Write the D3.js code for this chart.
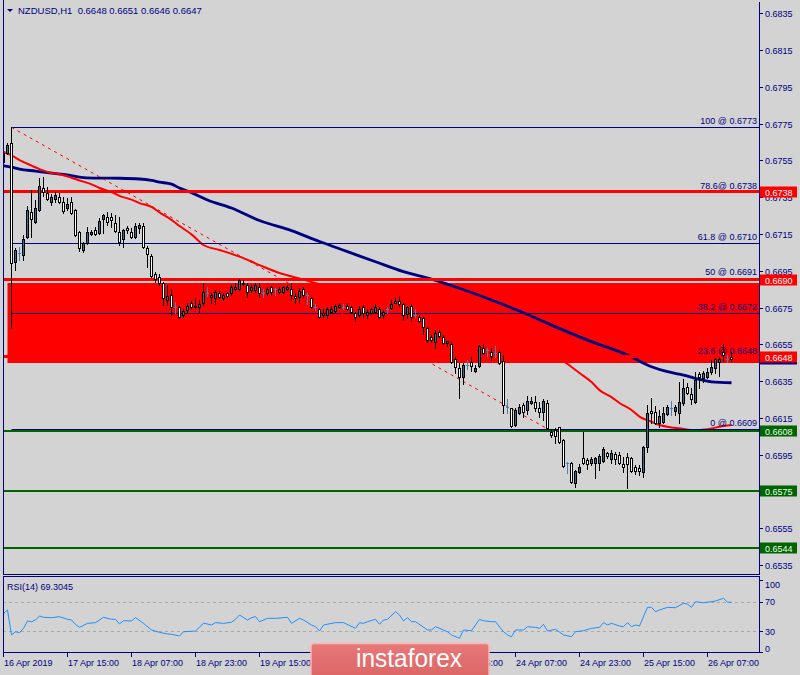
<!DOCTYPE html>
<html><head><meta charset="utf-8">
<script src="https://cdn.jsdelivr.net/npm/d3@7"></script>
<style>html,body{margin:0;padding:0;background:#d3d3d3;}svg{display:block;}text{font-family:"Liberation Sans",Arial,sans-serif;}</style>
</head><body>
<svg id="c" width="800" height="675"></svg>
<script>
// ---------------- DATA ----------------
const titleText = "NZDUSD,H1  0.6648 0.6651 0.6646 0.6647";
const rsiTitle = "RSI(14) 69.3045";

const open = [0.67541,0.67590,0.67645,0.66998,0.67047,0.67036,0.67134,0.67269,0.67215,0.67280,0.67400,0.67373,0.67324,0.67340,0.67351,0.67324,0.67291,0.67324,0.67280,0.67161,0.67063,0.67101,0.67150,0.67172,0.67155,0.67231,0.67242,0.67242,0.67210,0.67161,0.67123,0.67182,0.67161,0.67134,0.67182,0.67193,0.67074,0.67030,0.66932,0.66916,0.66883,0.66791,0.66818,0.66753,0.66753,0.66709,0.66737,0.66775,0.66753,0.66753,0.66775,0.66829,0.66807,0.66802,0.66829,0.66802,0.66829,0.66829,0.66851,0.66851,0.66883,0.66872,0.66845,0.66845,0.66862,0.66829,0.66829,0.66862,0.66851,0.66834,0.66834,0.66851,0.66851,0.66813,0.66807,0.66851,0.66818,0.66802,0.66753,0.66742,0.66709,0.66709,0.66726,0.66731,0.66753,0.66753,0.66758,0.66753,0.66720,0.66709,0.66753,0.66709,0.66720,0.66726,0.66742,0.66709,0.66742,0.66747,0.66775,0.66786,0.66769,0.66715,0.66758,0.66709,0.66698,0.66693,0.66639,0.66590,0.66562,0.66617,0.66590,0.66557,0.66552,0.66470,0.66421,0.66372,0.66437,0.66454,0.66405,0.66432,0.66530,0.66519,0.66508,0.66503,0.66508,0.66459,0.66209,0.66203,0.66111,0.66176,0.66220,0.66193,0.66231,0.66236,0.66203,0.66182,0.66231,0.66073,0.66084,0.66100,0.66030,0.65904,0.65904,0.65796,0.65856,0.65932,0.65921,0.65904,0.65904,0.65904,0.65915,0.65959,0.65926,0.65953,0.65948,0.65899,0.65937,0.65932,0.65883,0.65877,0.65856,0.65991,0.66187,0.66182,0.66122,0.66127,0.66171,0.66203,0.66187,0.66176,0.66231,0.66318,0.66280,0.66236,0.66388,0.66367,0.66372,0.66399,0.66421,0.66454,0.66508,0.66470,0.66480];
const high = [0.67607,0.67645,0.67732,0.67074,0.67079,0.67144,0.67302,0.67389,0.67335,0.67454,0.67460,0.67405,0.67367,0.67378,0.67373,0.67351,0.67346,0.67351,0.67285,0.67165,0.67106,0.67188,0.67172,0.67188,0.67237,0.67256,0.67269,0.67264,0.67253,0.67242,0.67177,0.67193,0.67182,0.67210,0.67210,0.67210,0.67085,0.67041,0.66943,0.66932,0.66889,0.66872,0.66851,0.66780,0.66758,0.66742,0.66775,0.66786,0.66802,0.66791,0.66883,0.66862,0.66829,0.66845,0.66840,0.66829,0.66834,0.66872,0.66883,0.66905,0.66900,0.66883,0.66872,0.66883,0.66883,0.66851,0.66862,0.66867,0.66856,0.66862,0.66867,0.66872,0.66883,0.66829,0.66856,0.66862,0.66829,0.66807,0.66769,0.66747,0.66742,0.66753,0.66758,0.66769,0.66775,0.66769,0.66775,0.66758,0.66726,0.66758,0.66764,0.66742,0.66747,0.66769,0.66753,0.66737,0.66753,0.66791,0.66802,0.66813,0.66772,0.66758,0.66769,0.66742,0.66709,0.66698,0.66644,0.66600,0.66628,0.66628,0.66600,0.66570,0.66562,0.66481,0.66448,0.66448,0.66465,0.66481,0.66437,0.66546,0.66552,0.66530,0.66530,0.66541,0.66519,0.66492,0.66252,0.66206,0.66203,0.66225,0.66231,0.66269,0.66263,0.66269,0.66236,0.66252,0.66247,0.66089,0.66095,0.66103,0.66035,0.65910,0.65910,0.65866,0.65899,0.66073,0.65932,0.65937,0.65937,0.65953,0.65991,0.65964,0.65975,0.65964,0.65964,0.65937,0.65959,0.65937,0.65894,0.65894,0.65997,0.66220,0.66258,0.66214,0.66193,0.66209,0.66220,0.66242,0.66220,0.66345,0.66361,0.66340,0.66312,0.66399,0.66399,0.66405,0.66421,0.66465,0.66476,0.66481,0.66552,0.66492,0.66510];
const low = [0.67530,0.67585,0.66639,0.66954,0.67008,0.67008,0.67130,0.67134,0.67210,0.67275,0.67357,0.67335,0.67308,0.67324,0.67318,0.67264,0.67280,0.67260,0.67140,0.67057,0.67052,0.67098,0.67144,0.67144,0.67150,0.67155,0.67199,0.67188,0.67163,0.67090,0.67079,0.67155,0.67128,0.67128,0.67155,0.67074,0.66970,0.66916,0.66889,0.66872,0.66764,0.66764,0.66709,0.66720,0.66693,0.66698,0.66726,0.66742,0.66747,0.66726,0.66764,0.66813,0.66775,0.66769,0.66802,0.66791,0.66807,0.66818,0.66845,0.66845,0.66872,0.66807,0.66834,0.66834,0.66807,0.66807,0.66818,0.66818,0.66818,0.66829,0.66829,0.66845,0.66791,0.66775,0.66775,0.66807,0.66769,0.66750,0.66737,0.66693,0.66698,0.66693,0.66720,0.66726,0.66747,0.66742,0.66737,0.66720,0.66677,0.66698,0.66698,0.66693,0.66715,0.66720,0.66693,0.66693,0.66720,0.66742,0.66772,0.66758,0.66682,0.66693,0.66677,0.66698,0.66671,0.66606,0.66562,0.66562,0.66530,0.66590,0.66552,0.66541,0.66448,0.66394,0.66258,0.66334,0.66416,0.66405,0.66399,0.66427,0.66497,0.66486,0.66465,0.66481,0.66443,0.66176,0.66176,0.66100,0.66108,0.66171,0.66155,0.66171,0.66225,0.66187,0.66155,0.66138,0.66092,0.66046,0.66013,0.66013,0.65883,0.65850,0.65796,0.65774,0.65850,0.65899,0.65872,0.65894,0.65823,0.65866,0.65910,0.65932,0.65904,0.65899,0.65899,0.65856,0.65769,0.65856,0.65845,0.65839,0.65828,0.65964,0.66122,0.66117,0.66100,0.66122,0.66165,0.66165,0.66165,0.66122,0.66220,0.66282,0.66225,0.66231,0.66312,0.66345,0.66367,0.66388,0.66394,0.66378,0.66459,0.66454,0.66460];
const close = [0.67590,0.67634,0.66992,0.67063,0.67047,0.67123,0.67280,0.67231,0.67291,0.67411,0.67378,0.67340,0.67351,0.67362,0.67324,0.67275,0.67313,0.67264,0.67144,0.67074,0.67101,0.67161,0.67161,0.67150,0.67221,0.67253,0.67215,0.67226,0.67166,0.67106,0.67172,0.67172,0.67134,0.67193,0.67199,0.67079,0.67041,0.66921,0.66905,0.66883,0.66802,0.66813,0.66753,0.66753,0.66698,0.66731,0.66758,0.66753,0.66758,0.66769,0.66834,0.66829,0.66818,0.66834,0.66807,0.66818,0.66813,0.66862,0.66862,0.66900,0.66884,0.66834,0.66862,0.66872,0.66829,0.66829,0.66851,0.66834,0.66851,0.66851,0.66862,0.66862,0.66818,0.66802,0.66840,0.66818,0.66818,0.66753,0.66753,0.66698,0.66720,0.66742,0.66742,0.66758,0.66764,0.66753,0.66742,0.66726,0.66698,0.66742,0.66720,0.66726,0.66742,0.66753,0.66698,0.66726,0.66742,0.66769,0.66786,0.66769,0.66709,0.66753,0.66698,0.66709,0.66677,0.66644,0.66573,0.66573,0.66611,0.66595,0.66557,0.66568,0.66454,0.66427,0.66372,0.66437,0.66437,0.66432,0.66421,0.66541,0.66503,0.66519,0.66486,0.66503,0.66448,0.66220,0.66209,0.66106,0.66193,0.66209,0.66182,0.66242,0.66242,0.66203,0.66182,0.66242,0.66095,0.66057,0.66051,0.66019,0.65888,0.65904,0.65801,0.65861,0.65883,0.65904,0.65899,0.65926,0.65932,0.65943,0.65981,0.65943,0.65959,0.65926,0.65904,0.65883,0.65899,0.65861,0.65861,0.65861,0.65991,0.66176,0.66176,0.66122,0.66160,0.66176,0.66209,0.66203,0.66209,0.66236,0.66312,0.66285,0.66252,0.66356,0.66372,0.66394,0.66399,0.66427,0.66470,0.66470,0.66492,0.66470,0.66470];

const redMaIdx = [0,2,4,7,9,12,14,17,19,22,24,27,29,32,34,37,39,42,44,47,50,54,59,64,69,74,77,87,99,112,124,132,139,141,144,147,149,152,154,157,159,162,164,167,169,172,174,177,179,182];
const redMaVal = [0.67596,0.67577,0.67552,0.67522,0.67503,0.67482,0.67475,0.67456,0.67441,0.67420,0.67400,0.67378,0.67357,0.67337,0.67318,0.67297,0.67267,0.67227,0.67193,0.67148,0.67090,0.67063,0.67027,0.66981,0.66938,0.66908,0.66889,0.66834,0.66780,0.66709,0.66617,0.66546,0.66473,0.66443,0.66394,0.66345,0.66301,0.66263,0.66231,0.66193,0.66157,0.66129,0.66111,0.66098,0.66093,0.66084,0.66084,0.66092,0.66102,0.66111];
const blueMaIdx = [0,2,4,8,12,16,20,24,29,34,37,39,42,44,47,51,57,64,72,79,86,93,100,107,114,122,129,136,146,156,162,166,170,174,177,182];
const blueMaVal = [0.67521,0.67513,0.67503,0.67492,0.67481,0.67471,0.67457,0.67454,0.67453,0.67449,0.67441,0.67432,0.67421,0.67400,0.67375,0.67335,0.67291,0.67223,0.67168,0.67109,0.67054,0.66999,0.66945,0.66905,0.66855,0.66791,0.66731,0.66664,0.66573,0.66492,0.66428,0.66401,0.66383,0.66359,0.66346,0.66341];

const rsiIdx = [0,1,2,3,4,5,6,7,8,9,10,12,14,16,17,18,19,21,23,25,27,28,29,30,32,33,35,37,39,41,42,44,45,48,50,51,52,53,55,57,58,59,61,62,63,64,66,68,71,72,74,75,77,78,79,80,83,85,88,89,90,91,93,94,95,96,98,99,100,101,102,103,106,107,108,110,111,112,114,115,117,119,120,122,123,125,126,127,128,130,131,133,134,135,136,138,140,142,143,145,147,149,150,151,152,154,155,156,157,158,159,161,162,163,164,166,168,170,171,172,173,175,177,178,180,181,182];
const rsiVal = [54,58.7,24.6,29,27.7,33.7,43.7,42.7,45,50.5,48.7,48.2,49.6,46,45,39,35,40.5,41.4,48.7,46,46,39.6,44,43.7,48.2,40.5,31.4,28.2,26,25.5,23.2,29,30,40.5,39.6,38.2,41.4,40.5,41.9,46,51.8,45,48.2,49.6,42.7,47.3,47.3,48.7,40.5,47.3,45,38.2,35.9,30,38.2,41.4,41.4,33.7,41.4,40.5,42.7,46,39.2,45,46,56.3,51.8,43.7,48.2,42.7,42.7,31.4,31.4,35.9,31.4,29,24.6,20,31.4,30.4,46,44,42.7,42.7,29,24.6,22.2,31.4,31.4,35.9,35,33.7,39.2,30,32.3,24.6,22.2,29,30.4,33.7,35,41.4,38.2,40.5,36.8,35.9,41.4,35.9,38.2,36.8,62.3,62.3,56.3,58.7,62.3,61.8,67.8,66.8,62.3,70,68.6,70,70.9,74.6,69.2,69.3];

const fibPrices = [0.6773,0.6738,0.6710,0.6691,0.6672,0.6648,0.6609];
const fibLabels = ["100 @ 0.6773","78.6@ 0.6738","61.8 @ 0.6710","50 @ 0.6691","38.2 @ 0.6672","23.6 @ 0.6648","0 @ 0.6609"];
const redLevels = [0.6738,0.6690,0.6648];
const greenLevels = [0.6608,0.6575,0.6544];
const zoneTop = 0.66883, zoneBottom = 0.66448, zoneStartBar = 1;
const trendStart = {bar:2, price:0.6773}, trendEnd = {bar:136, price:0.6609};
const fibStartBar = 2;
const currentPrice = 0.6647;

const priceTicks = [0.6835,0.6815,0.6795,0.6775,0.6755,0.6735,0.6715,0.6695,0.6675,0.6655,0.6635,0.6615,0.6595,0.6575,0.6555,0.6535];
const timeIdx = [0,16,32,48,64,80,96,112,128,144,160,176];
const timeLabels = ["16 Apr 2019","17 Apr 15:00","18 Apr 07:00","18 Apr 23:00","19 Apr 15:00","22 Apr 07:00","22 Apr 23:00","23 Apr 15:00","24 Apr 07:00","24 Apr 23:00","25 Apr 15:00","26 Apr 07:00"];
const rsiTicks = [100,70,30,0];
const rsiLevels = [70,30];

// ---------------- DRAW ----------------
const NAVY = "#000080", RED = "#ff0000", GREEN = "#006400", BG = "#d3d3d3";
const plotL = 3, plotR = 759, mainB = 575, rsiT = 577, rsiB = 653;
const svg = d3.select("#c");
const x = d3.scaleLinear().domain([0,182]).range([3.5,731.5]);
const y = d3.scaleLinear().domain([0.6535,0.6835]).range([565,13.3]);
const ry = d3.scaleLinear().domain([0,100]).range([653,579.7]);
const crisp = v => Math.round(v) + 0.5;

svg.append("rect").attr("width",800).attr("height",675).attr("fill",BG);

const defs = svg.append("defs");
defs.append("clipPath").attr("id","mainClip").append("rect")
  .attr("x",plotL+1).attr("y",0).attr("width",plotR-plotL-1).attr("height",mainB-1);
defs.append("clipPath").attr("id","rsiClip").append("rect")
  .attr("x",plotL+1).attr("y",rsiT).attr("width",plotR-plotL-1).attr("height",rsiB-rsiT);
const grad = defs.append("linearGradient").attr("id","wm").attr("x1",0).attr("y1",0).attr("x2",0).attr("y2",1);
grad.append("stop").attr("offset","0%").attr("stop-color","#e97878");
grad.append("stop").attr("offset","100%").attr("stop-color","#d86262");

const main = svg.append("g").attr("clip-path","url(#mainClip)");

// zone rectangle
main.append("rect")
  .attr("x", Math.round(x(zoneStartBar)) - 0.5).attr("y", Math.round(y(zoneTop)))
  .attr("width", plotR - Math.round(x(zoneStartBar)) + 1)
  .attr("height", Math.round(y(zoneBottom)) - Math.round(y(zoneTop)))
  .attr("fill", RED);

// moving averages
const maLine = d3.line().x(d => x(d[0])).y(d => y(d[1])).curve(d3.curveMonotoneX);
main.append("path").datum(blueMaIdx.map((d,i)=>[d,blueMaVal[i]]))
  .attr("d",maLine).attr("fill","none").attr("stroke",NAVY).attr("stroke-width",2.8);
main.append("path").datum(redMaIdx.map((d,i)=>[d,redMaVal[i]]))
  .attr("d",maLine).attr("fill","none").attr("stroke",RED).attr("stroke-width",2);

// fib lines
main.selectAll(".fib").data(fibPrices).enter().append("line")
  .attr("x1", x(fibStartBar)).attr("x2", plotR)
  .attr("y1", d => crisp(y(d))).attr("y2", d => crisp(y(d)))
  .attr("stroke", NAVY).attr("stroke-width",1);

// red horizontal levels
main.selectAll(".rl").data(redLevels).enter().append("line")
  .attr("x1", plotL).attr("x2", plotR)
  .attr("y1", d => Math.round(y(d)) - 0.5).attr("y2", d => Math.round(y(d)) - 0.5)
  .attr("stroke", RED).attr("stroke-width",3);
// green levels
main.selectAll(".gl").data(greenLevels).enter().append("line")
  .attr("x1", plotL).attr("x2", plotR)
  .attr("y1", d => Math.round(y(d))).attr("y2", d => Math.round(y(d)))
  .attr("stroke", GREEN).attr("stroke-width",2);

// fib labels
main.selectAll(".fibt").data(fibPrices).enter().append("text")
  .attr("x", 757).attr("y", d => Math.round(y(d)) - 3)
  .attr("text-anchor","end").attr("font-size","9px").attr("fill",NAVY)
  .text((d,i) => fibLabels[i]);

// dashed trend line
main.append("line")
  .attr("x1", x(trendStart.bar)).attr("y1", y(trendStart.price))
  .attr("x2", x(trendEnd.bar)).attr("y2", y(trendEnd.price))
  .attr("stroke", RED).attr("stroke-width",1).attr("stroke-dasharray","3,4");

// candles
const cg = main.append("g");
open.forEach((o,i) => {
  const c = close[i], h = high[i], l = low[i];
  const col = Math.round(x(i) - 0.5);
  const cx = col + 0.5;
  const doji = Math.abs(o - c) < 1e-7;
  const wickCol = doji ? "#4682b4" : "#000";
  cg.append("line").attr("x1",cx).attr("x2",cx)
    .attr("y1", Math.round(y(h))).attr("y2", Math.round(y(l)) + 1)
    .attr("stroke", wickCol).attr("stroke-width",1);
  if (doji) {
    cg.append("line").attr("x1",col-1).attr("x2",col+2)
      .attr("y1",crisp(y(o))).attr("y2",crisp(y(o)))
      .attr("stroke","#4682b4").attr("stroke-width",1);
  } else {
    const top = Math.round(y(Math.max(o,c)));
    const bot = Math.round(y(Math.min(o,c)));
    cg.append("rect").attr("x", col - 0.5).attr("y", top + 0.5)
      .attr("width", 2).attr("height", Math.max(1, bot - top))
      .attr("fill", c > o ? "#3f6785" : "#ffffff")
      .attr("stroke","#000").attr("stroke-width",1);
  }
});

// frames
const frame = svg.append("g").attr("stroke",NAVY).attr("stroke-width",1).attr("fill","none");
frame.append("line").attr("x1",plotL+0.5).attr("x2",plotL+0.5).attr("y1",0).attr("y2",mainB);
frame.append("line").attr("x1",plotR+0.5).attr("x2",plotR+0.5).attr("y1",2).attr("y2",mainB);
frame.append("line").attr("x1",plotL).attr("x2",plotR+1).attr("y1",mainB-0.5).attr("y2",mainB-0.5);
frame.append("line").attr("x1",plotL).attr("x2",plotR+1).attr("y1",rsiT-0.5).attr("y2",rsiT-0.5);
frame.append("line").attr("x1",plotL+0.5).attr("x2",plotL+0.5).attr("y1",rsiT).attr("y2",rsiB);
frame.append("line").attr("x1",plotR+0.5).attr("x2",plotR+0.5).attr("y1",rsiT).attr("y2",rsiB);
frame.append("line").attr("x1",plotL).attr("x2",plotR+1).attr("y1",rsiB-0.5).attr("y2",rsiB-0.5);

// price axis
const pa = svg.append("g");
priceTicks.forEach(p => {
  const yy = crisp(y(p));
  pa.append("line").attr("x1",plotR+1).attr("x2",plotR+4).attr("y1",yy).attr("y2",yy)
    .attr("stroke",NAVY);
  pa.append("text").attr("x",765).attr("y",Math.round(y(p))+3.5)
    .attr("font-size","9px").attr("fill",NAVY).text(p.toFixed(4));
});
// current price (navy) label behind
pa.append("rect").attr("x",760).attr("y",Math.round(y(currentPrice))-5.5)
  .attr("width",37).attr("height",11).attr("fill",NAVY);
// level labels
function levelBox(p, fill, txtCol) {
  const yy = Math.round(y(p));
  pa.append("rect").attr("x",760).attr("y",yy-5.5).attr("width",37).attr("height",11).attr("fill",fill);
  pa.append("text").attr("x",765).attr("y",yy+3.5).attr("font-size","9px").attr("fill",txtCol).text(p.toFixed(4));
}
redLevels.forEach(p => levelBox(p, RED, "#ffffff"));
greenLevels.forEach(p => levelBox(p, GREEN, "#e8ffe8"));

// title
svg.append("path").attr("d","M7,9 L13,9 L10,12 Z").attr("fill",NAVY);
svg.append("text").attr("x",18).attr("y",14).attr("font-size","9.5px").attr("fill",NAVY)
  .style("white-space","pre").text(titleText);

// RSI panel
const rg = svg.append("g").attr("clip-path","url(#rsiClip)");
rsiLevels.forEach(v => {
  rg.append("line").attr("x1",plotL).attr("x2",plotR).attr("y1",crisp(ry(v))).attr("y2",crisp(ry(v)))
    .attr("stroke","#a9a9a9").attr("stroke-dasharray","3,3");
});
rg.append("path").datum(rsiIdx.map((d,i)=>[d,rsiVal[i]]))
  .attr("d", d3.line().x(d=>x(d[0])).y(d=>ry(d[1])))
  .attr("fill","none").attr("stroke","#1e90ff").attr("stroke-width",1);
svg.append("text").attr("x",7).attr("y",589.5).attr("font-size","9px").attr("fill",NAVY).text(rsiTitle);
rsiTicks.forEach(v => {
  const yy = ry(v);
  svg.append("line").attr("x1",plotR+1).attr("x2",plotR+4).attr("y1",crisp(Math.min(yy,652))).attr("y2",crisp(Math.min(yy,652))).attr("stroke",NAVY);
  const ly = Math.max(584, Math.min(648, yy));
  svg.append("text").attr("x",765).attr("y",ly+3.5).attr("font-size","9px").attr("fill",NAVY).text(v);
});

// time axis
timeIdx.forEach((b,i) => {
  const xx = crisp(x(b) - 0.5);
  svg.append("line").attr("x1",xx).attr("x2",xx).attr("y1",rsiB).attr("y2",rsiB+4).attr("stroke",NAVY);
  svg.append("text").attr("x",xx+0.5).attr("y",666).attr("font-size","9px").attr("fill",NAVY).text(timeLabels[i]);
});

// watermark
const wm = svg.append("g");
wm.append("rect").attr("x",311).attr("y",643.5).attr("width",178).attr("height",40).attr("rx",3)
  .attr("fill","url(#wm)").attr("stroke","#f3b9b9").attr("stroke-width",1.5);
wm.append("text").attr("x",409).attr("y",667).attr("text-anchor","middle")
  .attr("font-family","'Open Sans',sans-serif").attr("font-size","26px").attr("fill","#ffffff")
  .attr("textLength",106).attr("lengthAdjust","spacingAndGlyphs").text("instaforex");
</script>
</body></html>
